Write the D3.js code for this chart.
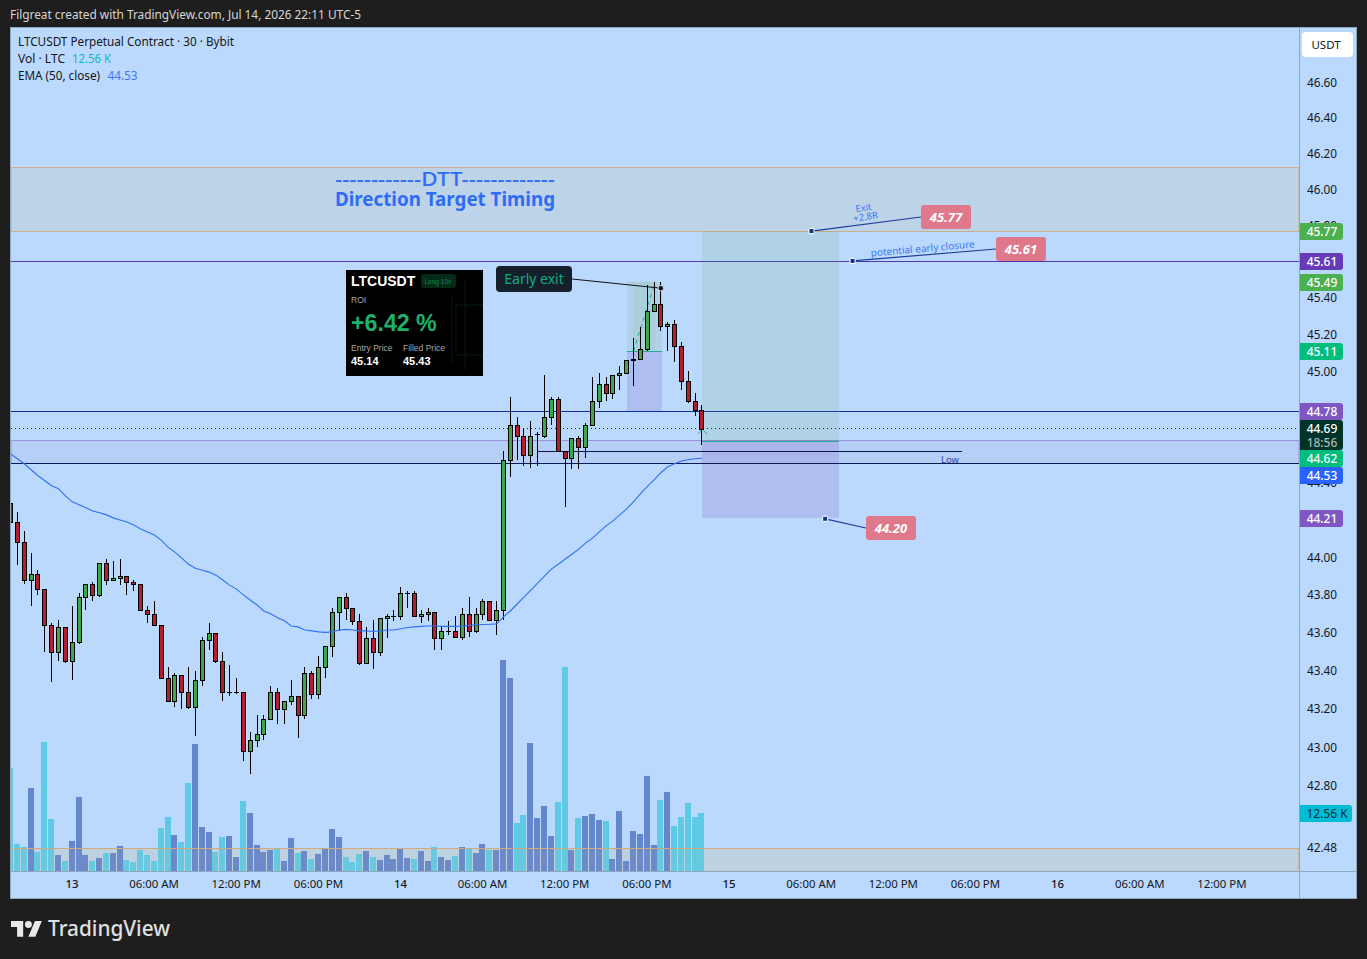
<!DOCTYPE html>
<html><head><meta charset="utf-8">
<script src="https://cdn.jsdelivr.net/npm/d3@7/dist/d3.min.js"></script>
<style>
html,body{margin:0;padding:0;background:#1e1e1e;overflow:hidden}
svg{display:block}
text{font-family:"Noto Sans",sans-serif}
</style></head><body><svg id="c" width="1367" height="959"></svg>
<script>
const firstBar=-9;
const opens=[44.29,44.19,44.08,43.88,43.91,43.83,43.64,43.50,43.63,43.45,43.55,43.79,43.86,43.80,43.97,43.88,43.89,43.90,43.87,43.86,43.72,43.70,43.64,43.36,43.24,43.38,43.29,43.21,43.35,43.56,43.60,43.45,43.29,43.29,43.29,42.98,43.04,43.07,43.15,43.29,43.20,43.24,43.27,43.17,43.39,43.28,43.42,43.53,43.71,43.79,43.73,43.66,43.44,43.57,43.50,43.68,43.69,43.69,43.81,43.81,43.69,43.70,43.71,43.57,43.61,43.61,43.58,43.70,43.61,43.70,43.77,43.67,43.72,44.52,44.71,44.65,44.55,44.66,44.65,44.75,44.85,44.57,44.53,44.64,44.59,44.71,44.84,44.93,44.88,44.98,44.99,45.06,45.07,45.12,45.33,45.37,45.25,45.26,45.14,44.95,44.84,44.79];
const highs=[44.32,44.24,44.14,44.02,43.93,43.83,43.65,43.67,43.63,43.74,43.81,43.86,43.87,43.97,43.99,43.98,43.99,43.90,43.88,43.86,43.74,43.77,43.64,43.42,43.39,43.38,43.42,43.40,43.58,43.65,43.60,43.50,43.43,43.36,43.29,43.08,43.17,43.17,43.32,43.31,43.24,43.35,43.27,43.42,43.40,43.48,43.53,43.73,43.79,43.81,43.73,43.70,43.63,43.67,43.68,43.70,43.72,43.84,43.82,43.82,43.72,43.73,43.71,43.63,43.66,43.69,43.73,43.79,43.73,43.78,43.77,43.77,44.57,44.86,44.75,44.69,44.73,44.67,44.98,44.86,44.86,44.57,44.64,44.65,44.72,44.97,44.99,44.97,44.98,45.03,45.06,45.18,45.24,45.47,45.49,45.49,45.27,45.28,45.16,45.00,44.88,44.82];
const lows=[43.92,43.96,43.86,43.74,43.80,43.50,43.34,43.45,43.44,43.35,43.54,43.72,43.77,43.79,43.85,43.88,43.85,43.80,43.82,43.72,43.65,43.64,43.36,43.24,43.21,43.20,43.20,43.06,43.32,43.51,43.44,43.24,43.27,43.28,42.93,42.86,43.00,43.04,43.15,43.12,43.12,43.22,43.05,43.15,43.25,43.25,43.36,43.47,43.61,43.67,43.64,43.43,43.44,43.41,43.48,43.57,43.66,43.67,43.73,43.69,43.65,43.66,43.51,43.51,43.59,43.57,43.56,43.58,43.60,43.67,43.67,43.59,43.67,44.43,44.52,44.49,44.48,44.49,44.64,44.71,44.57,44.27,44.47,44.47,44.53,44.71,44.80,44.84,44.85,44.90,44.99,44.92,45.06,45.11,45.33,45.22,45.11,45.05,44.90,44.83,44.76,44.60];
const closes=[44.19,44.08,43.88,43.91,43.83,43.64,43.50,43.63,43.45,43.55,43.79,43.86,43.80,43.97,43.88,43.89,43.90,43.87,43.86,43.72,43.70,43.64,43.36,43.24,43.38,43.29,43.21,43.35,43.56,43.60,43.45,43.29,43.29,43.29,42.98,43.04,43.07,43.15,43.29,43.20,43.24,43.27,43.17,43.39,43.28,43.42,43.53,43.71,43.79,43.73,43.66,43.44,43.57,43.50,43.68,43.69,43.69,43.81,43.81,43.69,43.70,43.71,43.57,43.61,43.61,43.58,43.70,43.61,43.70,43.77,43.67,43.72,44.52,44.71,44.65,44.55,44.65,44.66,44.75,44.85,44.57,44.53,44.64,44.59,44.71,44.84,44.93,44.88,44.98,44.99,45.06,45.07,45.12,45.33,45.37,45.25,45.26,45.14,44.95,44.84,44.79,44.69];
const volumes=[22.31,5.85,5.20,17.98,4.12,27.94,11.26,3.47,2.17,6.50,16.03,3.47,2.17,2.82,3.90,3.90,5.42,2.38,1.95,4.55,3.47,2.17,9.31,11.70,7.80,6.28,19.06,27.51,9.53,8.45,4.12,7.36,7.58,3.03,15.16,12.56,5.63,4.12,4.55,4.98,2.17,7.15,3.90,4.33,2.60,3.68,4.77,9.10,7.36,3.03,1.95,3.68,4.33,3.03,2.38,3.47,2.60,4.77,2.82,2.60,4.33,2.17,5.20,3.03,2.38,3.25,5.20,4.98,3.90,5.85,4.55,4.55,45.70,41.80,10.40,12.13,27.72,11.48,14.08,7.58,14.95,44.19,4.55,11.48,11.91,12.35,11.05,10.83,2.60,13.00,2.17,8.66,8.01,20.58,5.63,15.38,17.11,9.75,11.70,14.73,11.70,12.56];
const emaValues=[44.554,44.527,44.500,44.468,44.436,44.409,44.382,44.366,44.328,44.296,44.280,44.264,44.247,44.237,44.226,44.210,44.199,44.188,44.172,44.151,44.135,44.118,44.091,44.054,44.027,43.995,43.963,43.942,43.931,43.921,43.905,43.879,43.852,43.831,43.800,43.773,43.747,43.715,43.700,43.679,43.663,43.636,43.631,43.615,43.610,43.605,43.602,43.605,43.615,43.618,43.615,43.610,43.610,43.607,43.610,43.615,43.615,43.621,43.628,43.631,43.634,43.636,43.636,43.634,43.634,43.634,43.636,43.639,43.642,43.644,43.645,43.647,43.684,43.715,43.752,43.789,43.826,43.863,43.900,43.937,43.963,43.989,44.016,44.043,44.075,44.102,44.135,44.167,44.194,44.226,44.258,44.296,44.339,44.377,44.414,44.452,44.484,44.500,44.515,44.522,44.527,44.530];
const priceTicks=[46.60,46.40,46.20,46.00,45.80,45.40,45.20,45.00,44.40,44.00,43.80,43.60,43.40,43.20,43.00,42.80,42.48];
const timeTicks=[0,12,24,36,48,60,72,84,96,108,120,132,144,156,168];
const timeLabels=["13","06:00 AM","12:00 PM","06:00 PM","14","06:00 AM","12:00 PM","06:00 PM","15","06:00 AM","12:00 PM","06:00 PM","16","06:00 AM","12:00 PM"];
const tagPrices=[45.77,45.605,45.49,45.11,44.785,44.53,44.44,44.21];
const tagLabels=["45.77","45.61","45.49","45.11","44.78","44.62","44.53","44.21"];
const tagColors=["#4caf50","#673ab7","#4caf50","#00bd7e","#7e57c2","#00bd7e","#2962ff","#7e57c2"];
const lastPrice=44.69, lastVolume=12.56, stopPrice=44.21, entryPrice=44.625, targetPrice=45.77, earlyPrice=45.605;

const W=1367,H=959,L=11,R=1299,T=28,B=871;
const svg=d3.select("#c");
const x=d3.scaleLinear().domain([0,168]).range([72.2,72.2+168*6.845]);
const y=d3.scaleLog().domain([46.6,43]).range([82.4,747.4]);
const v=d3.scaleLinear().domain([0,lastVolume]).range([871,813]);
const bars=opens.map((o,k)=>({i:firstBar+k,o,h:highs[k],l:lows[k],c:closes[k],vol:volumes[k],ema:emaValues[k]}));

svg.append("rect").attr("width",W).attr("height",H).attr("fill","#1e1e1e");
svg.append("rect").attr("x",10.5).attr("y",27.5).attr("width",1346).attr("height",871).attr("fill","#bbd9fc").attr("stroke","#8fa6bd");
svg.append("defs").append("clipPath").attr("id","pane").append("rect").attr("x",L).attr("y",T).attr("width",R-L).attr("height",B-T);
const g=svg.append("g").attr("clip-path","url(#pane)");

// zones
function band(p1,p2,fill,stroke){
  const a=y(p1),b=y(p2);
  g.append("rect").attr("x",L).attr("width",R-L).attr("y",Math.round(a)+.5).attr("height",Math.round(b)-Math.round(a)).attr("fill",fill).attr("stroke",stroke).attr("stroke-width",1);
}
band(42.48,42.36,"rgba(200,190,150,.2)","none");

// volume
g.selectAll(".vol").data(bars).join("rect").attr("class","vol")
 .attr("x",d=>Math.floor(x(d.i))-3).attr("width",6)
 .attr("y",d=>v(d.vol)).attr("height",d=>871-v(d.vol))
 .attr("fill",d=>d.c<d.o?"#5ecae6":"#6486cc");

band(42.48,42.36,"rgba(200,190,150,.08)","#d2aa7c");
band(46.126,45.77,"rgba(200,190,150,.2)","#cdb08a");
band(44.63,44.505,"rgba(126,87,194,.08)","#9f8fdc");

function hline(p,col,x1=L,x2=R,dash=null){
  g.append("line").attr("x1",x1).attr("x2",x2).attr("y1",Math.round(y(p))+.5).attr("y2",Math.round(y(p))+.5).attr("stroke",col).attr("stroke-width",1).attr("stroke-dasharray",dash);
}
hline(earlyPrice,"#5038b0");
hline(44.785,"#0e2f9c");
hline(lastPrice+.005,"#0b1f1a",L,R,"1 3");

// position boxes
function box(i1,i2,p1,p2,fill){
  g.append("rect").attr("x",Math.round(x(i1))).attr("width",Math.round(x(i2))-Math.round(x(i1))).attr("y",y(p1)).attr("height",y(p2)-y(p1)).attr("fill",fill);
}
box(81,86.2,45.49,45.11,"rgba(110,170,100,.12)");
box(82,85.1,45.49,45.11,"rgba(110,170,100,.1)");
box(81,86.2,45.11,44.785,"rgba(126,87,194,.2)");
box(92,112,targetPrice,entryPrice,"rgba(110,170,100,.14)");
box(92,112,entryPrice,stopPrice,"rgba(126,87,194,.2)");
hline(45.11,"#1fae8a",x(81),x(86.2));
hline(entryPrice,"#1fae8a",x(92),x(112));
g.append("line").attr("x1",x(82)).attr("y1",y(45.11)).attr("x2",x(85)).attr("y2",y(45.47)).attr("stroke","#1fae8a").attr("stroke-dasharray","4 4");
g.append("path").attr("d",`M${x(91.4)},${y(44.66)}L${x(91.9)},${y(44.68)}M${x(92.2)},${y(44.68)}L${x(92.8)},${y(44.66)}`).attr("stroke","#1fae8a").attr("fill","none");

hline(44.505,"#0c1a5a");
hline(44.57,"#0a1550",x(68),x(130));
g.append("text").attr("x",941).attr("y",463).attr("font-size",9.5).attr("fill","#2a4a9c").text("Low");

// candles
const c=g.append("g").selectAll("g").data(bars).join("g");
c.append("rect").attr("x",d=>Math.floor(x(d.i))).attr("width",1)
 .attr("y",d=>Math.round(y(d.h))).attr("height",d=>Math.max(1,Math.round(y(d.l))-Math.round(y(d.h)))).attr("fill","#000");
c.filter(d=>d.o!==d.c).append("rect").attr("x",d=>Math.floor(x(d.i))-1.5).attr("width",4)
 .attr("y",d=>Math.round(y(Math.max(d.o,d.c)))+.5)
 .attr("height",d=>Math.round(y(Math.min(d.o,d.c)))-Math.round(y(Math.max(d.o,d.c))))
 .attr("fill",d=>d.c<d.o?"#b2202e":"#3fa64a").attr("stroke","#000").attr("stroke-width",1);
c.filter(d=>d.o===d.c).append("rect").attr("x",d=>Math.floor(x(d.i))-2).attr("width",5)
 .attr("y",d=>Math.round(y(d.o))).attr("height",1).attr("fill","#000");

// EMA
g.append("path").datum(bars).attr("fill","none").attr("stroke","#3070f5").attr("stroke-width",1.1)
 .attr("d",d3.line().x(d=>x(d.i)).y(d=>y(d.ema)));

// DTT text
svg.append("text").attr("x",335).attr("y",186).attr("font-size",20).attr("font-weight",500).attr("fill","#2f6cf6").attr("textLength",220).attr("lengthAdjust","spacingAndGlyphs").text("------------DTT-------------");
svg.append("text").attr("x",335).attr("y",206).attr("font-size",19).attr("font-weight",700).attr("fill","#2f6cf6").attr("textLength",220).attr("lengthAdjust","spacingAndGlyphs").text("Direction Target Timing");

// callouts
function callout(i,p,rx,ry,by,label){
  const px=x(i),py=y(p);
  svg.append("line").attr("x1",px).attr("y1",py).attr("x2",rx).attr("y2",ry).attr("stroke","#1d3f9a").attr("stroke-width",1.2);
  svg.append("circle").attr("cx",px).attr("cy",py).attr("r",3.2).attr("fill","#fff");
  svg.append("rect").attr("x",px-2).attr("y",py-2).attr("width",4).attr("height",4).attr("fill","#12308c");
  svg.append("rect").attr("x",rx).attr("y",by).attr("width",50).attr("height",24).attr("rx",3).attr("fill","#e0788c");
  svg.append("text").attr("x",rx+25).attr("y",by+16.5).attr("text-anchor","middle").attr("font-size",13).attr("font-weight",700).attr("font-style","italic").attr("fill","#fff").text(label);
}
callout(108,targetPrice,921,217,205,"45.77");
callout(114,earlyPrice,996,249,237,"45.61");
callout(110,44.205,866,528,516,"44.20");
function rotText(tx,ty,rot,size,str){
  svg.append("text").attr("transform",`translate(${tx},${ty}) rotate(${rot})`).attr("text-anchor","middle").attr("font-size",size).attr("fill","#3d78f5").text(str);
}
rotText(864,211,-9,9.5,"Exit");
rotText(866,220,-9,9.5,"+2.8R");
rotText(923,252,-5,10,"potential early closure");

// Early exit note
svg.append("line").attr("x1",572).attr("y1",279).attr("x2",x(86)).attr("y2",y(45.455)).attr("stroke","#111").attr("stroke-width",1);
svg.append("rect").attr("x",496).attr("y",266).attr("width",76).attr("height",26).attr("rx",4).attr("fill","#15202c");
svg.append("text").attr("x",534).attr("y",284).attr("text-anchor","middle").attr("font-size",14).attr("fill","#0fae80").text("Early exit");
svg.append("circle").attr("cx",x(86)).attr("cy",y(45.455)).attr("r",2.8).attr("fill","#111").attr("stroke","#fff").attr("stroke-width",.8);

// ROI card
const card=svg.append("g");
card.append("rect").attr("x",346).attr("y",270).attr("width",137).attr("height",106).attr("fill","#000");
card.append("path").attr("d","M465,280V370M452,295V365M456,305H483M456,305V355H483").attr("stroke","#0a2412").attr("fill","none").attr("stroke-width",.7);
card.append("rect").attr("x",421).attr("y",274).attr("width",35).attr("height",14).attr("rx",3).attr("fill","#062a18");
const cardText=(tx,ty,s,col,w,str)=>card.append("text").attr("x",tx).attr("y",ty).attr("font-size",s).attr("fill",col).attr("font-weight",w).style("font-family",'"Liberation Sans",sans-serif').text(str);
cardText(351,286,14,"#fff",700,"LTCUSDT");
cardText(424.5,284,6.5,"#178a55",400,"Long 10x");
cardText(351,303,8.5,"#a8a8a8",400,"ROI");
cardText(351,331,23.2,"#1eb06c",700,"+6.42 %");
cardText(351,351,8.5,"#a8a8a8",400,"Entry Price");
cardText(403,351,8.5,"#a8a8a8",400,"Filled Price");
cardText(351,365,11,"#fff",700,"45.14");
cardText(403,365,11,"#fff",700,"45.43");

// axes
svg.append("line").attr("x1",1299.5).attr("x2",1299.5).attr("y1",28).attr("y2",898).attr("stroke","#8fa6bd");
svg.append("line").attr("x1",11).attr("x2",1356).attr("y1",871.5).attr("y2",871.5).attr("stroke","#8fa6bd");
const yAxis=d3.axisRight(y).tickValues(priceTicks).tickSize(0).tickPadding(0).tickFormat(d3.format(".2f"));
const ya=svg.append("g").attr("transform","translate(1322,0)").call(yAxis);
ya.select(".domain").remove();
ya.selectAll("text").attr("text-anchor","middle").attr("font-size",11.8).attr("fill","#131722").style("font-family",'"Noto Sans",sans-serif');

const xAxis=d3.axisBottom(x).tickValues(timeTicks).tickSize(0).tickPadding(0).tickFormat((d,k)=>timeLabels[k]);
const xa=svg.append("g").attr("transform","translate(-0.8,880)").call(xAxis);
xa.select(".domain").remove();
xa.selectAll("text").attr("font-size",11.4).attr("fill","#131722").style("font-family",'"Noto Sans",sans-serif')
  .attr("font-weight",(d,k)=>/^\d+$/.test(timeLabels[k])?500:400);

// price tags
function tag(cy,w,h,fill){
  svg.append("path").attr("d",`M1300,${cy-h/2}H${1300+w-3}a3,3 0 0 1 3,3V${cy+h/2-3}a3,3 0 0 1 -3,3H1300Z`).attr("fill",fill);
}
function tagText(cy,str,col="#fff",tx=1322){
  svg.append("text").attr("x",tx).attr("y",cy+4.3).attr("text-anchor","middle").attr("font-size",12).attr("font-weight",500).attr("fill",col).text(str);
}
tagPrices.forEach((p,k)=>{
  const cy=Math.round(y(p))+.5; tag(cy,43,17,tagColors[k]); tagText(cy,tagLabels[k]);
});
tag(435,43,30,"#00332a");
tagText(428.5,lastPrice.toFixed(2));
tagText(442.5,"18:56","#a8b8b2");
{ const cy=Math.round(v(lastVolume))+.5; tag(cy,52,17,"#00bcd4");
  svg.append("text").attr("x",1327).attr("y",cy+4.3).attr("text-anchor","middle").attr("font-size",12).attr("fill","#0b2f3a").text(lastVolume.toFixed(2)+" K"); }
svg.append("rect").attr("x",1302).attr("y",32).attr("width",51).attr("height",25).attr("rx",4).attr("fill","#fff");
svg.append("text").attr("x",1326).attr("y",49).attr("text-anchor","middle").attr("font-size",11.5).attr("fill","#131722").text("USDT");

// header + legend
svg.append("text").attr("x",10).attr("y",19).attr("font-size",12).attr("fill","#d6d6d6").attr("textLength",351).attr("lengthAdjust","spacingAndGlyphs").text("Filgreat created with TradingView.com, Jul 14, 2026 22:11 UTC-5");
svg.append("text").attr("x",18).attr("y",46).attr("font-size",12).attr("fill","#131722").attr("textLength",216).attr("lengthAdjust","spacingAndGlyphs").text("LTCUSDT Perpetual Contract · 30 · Bybit");
svg.append("text").attr("x",18).attr("y",63).attr("font-size",12).attr("fill","#131722").attr("textLength",47).attr("lengthAdjust","spacingAndGlyphs").text("Vol · LTC");
svg.append("text").attr("x",72).attr("y",63).attr("font-size",12).attr("fill","#12b5cb").attr("textLength",39).attr("lengthAdjust","spacingAndGlyphs").text("12.56 K");
svg.append("text").attr("x",18).attr("y",80).attr("font-size",12).attr("fill","#131722").attr("textLength",82).attr("lengthAdjust","spacingAndGlyphs").text("EMA (50, close)");
svg.append("text").attr("x",107.5).attr("y",80).attr("font-size",12).attr("fill","#3d78f5").attr("textLength",30).attr("lengthAdjust","spacingAndGlyphs").text("44.53");

// footer logo
const logo=svg.append("g").attr("transform","translate(11,917.5) scale(.87)").attr("fill","#e8e8e8");
logo.append("path").attr("d","M14 22H7V11H0V4h14v18zM28 22h-8l7.5-18h8L28 22z");
logo.append("circle").attr("cx",20).attr("cy",8).attr("r",4);
svg.append("text").attr("x",48).attr("y",936).attr("font-size",21).attr("font-weight",500).attr("fill","#e0e0e0").attr("textLength",122).attr("lengthAdjust","spacingAndGlyphs").text("TradingView");
</script></body></html>
